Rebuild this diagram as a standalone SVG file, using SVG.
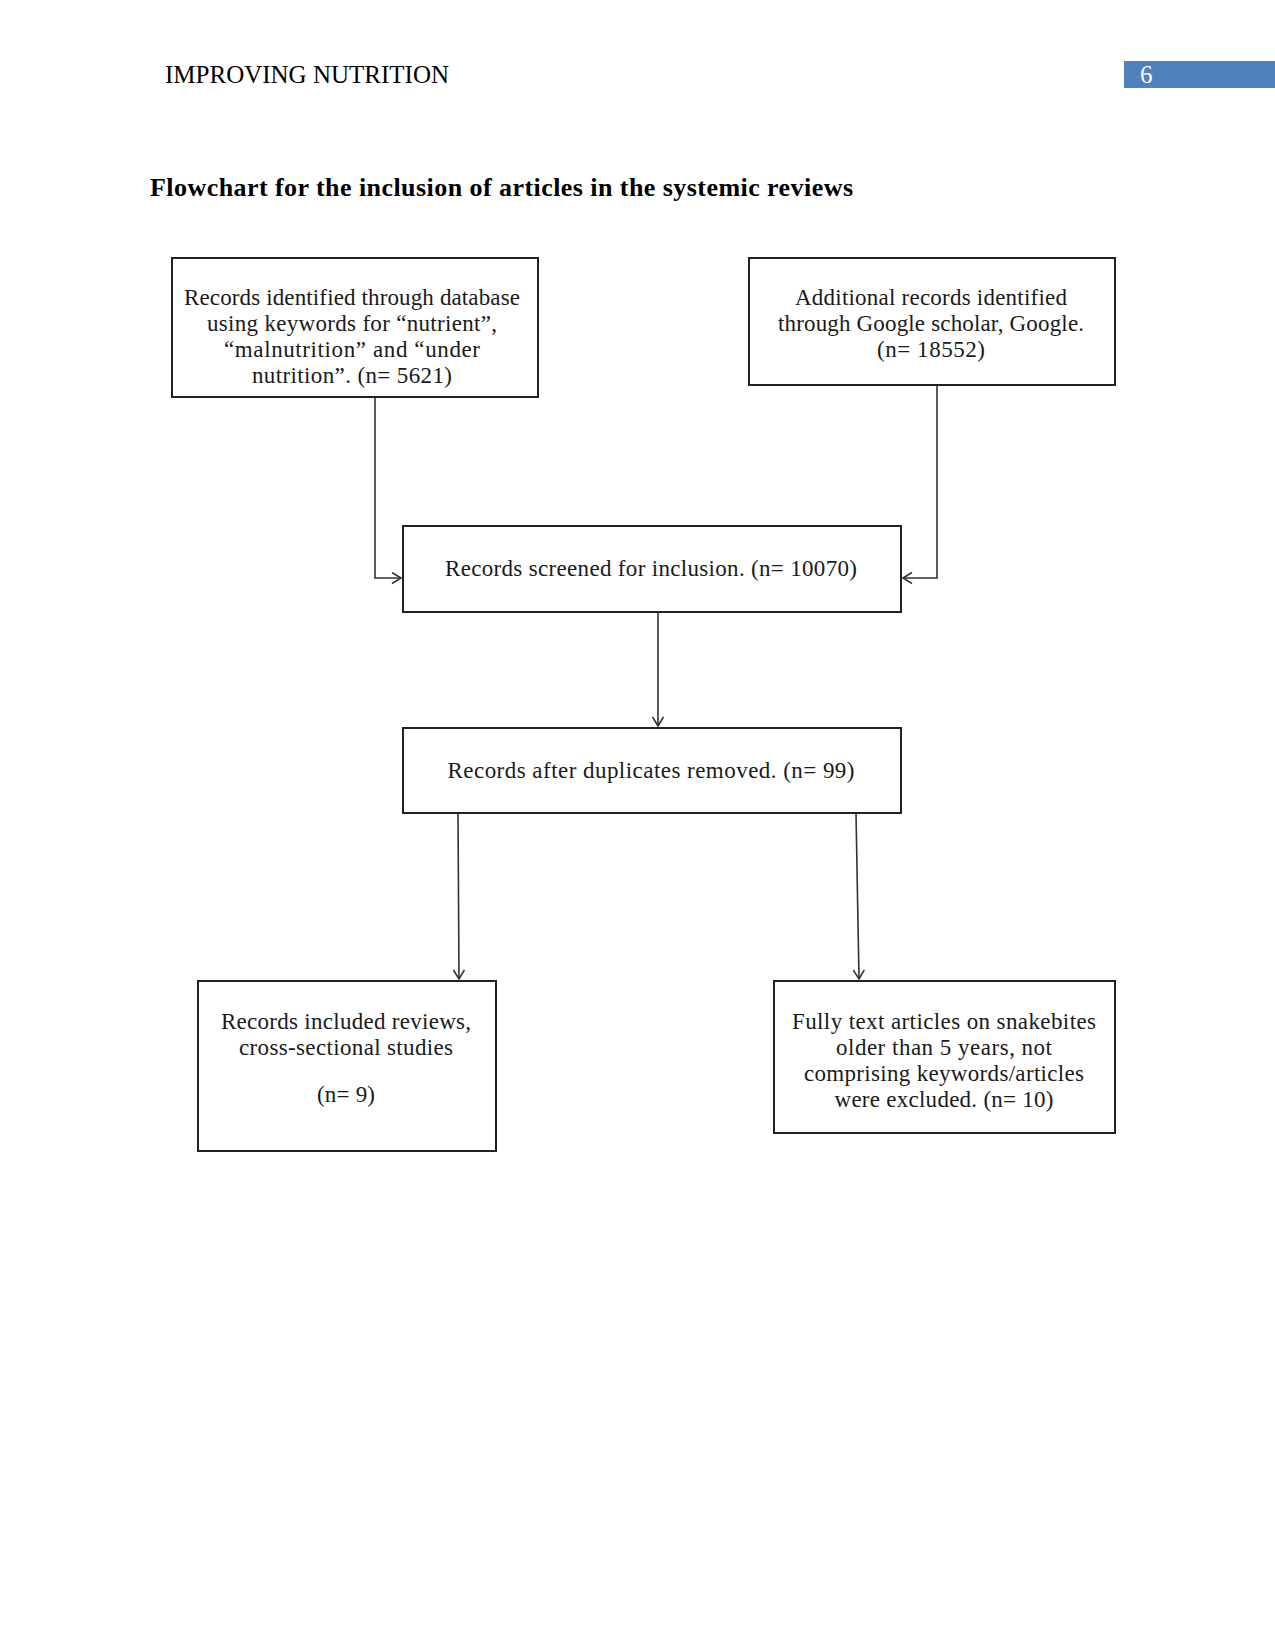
<svg xmlns="http://www.w3.org/2000/svg" width="1275" height="1651" viewBox="0 0 1275 1651">
<style>
.hdr{font-family:"Liberation Serif","Times New Roman",serif;font-size:25px;fill:#000}
.title{font-family:"Liberation Serif","Times New Roman",serif;font-size:26px;font-weight:bold;fill:#000}
.box{fill:#fff;stroke:#222;stroke-width:2}
.t{font-family:"Liberation Serif","Times New Roman",serif;font-size:23px;fill:#1a1a1a;text-anchor:middle}
.c{fill:none;stroke:#333;stroke-width:1.6}
</style>
<defs>
<marker id="ah" markerUnits="userSpaceOnUse" markerWidth="14" markerHeight="14" refX="10" refY="6" orient="auto">
<path d="M1,0.5 L10,6 L1,11.5" fill="none" stroke="#333" stroke-width="1.6"/>
</marker>
</defs>
<rect width="1275" height="1651" fill="#fff"/>
<g id="header">
<text class="hdr" x="165" y="83">IMPROVING NUTRITION</text>
<rect x="1124" y="61" width="151" height="27" fill="#4f81bd"/>
<text class="hdr" x="1140" y="83" style="fill:#fff">6</text>
</g>
<text class="title" x="150" y="196" textLength="703">Flowchart for the inclusion of articles in the systemic reviews</text>
<g id="connectors">
<path class="c" d="M375,397 V578 H401" marker-end="url(#ah)"/>
<path class="c" d="M937,385 V578 H903" marker-end="url(#ah)"/>
<path class="c" d="M658,612 V726" marker-end="url(#ah)"/>
<path class="c" d="M458,813 L459,979" marker-end="url(#ah)"/>
<path class="c" d="M856,813 L859,979" marker-end="url(#ah)"/>
</g>
<g id="node1">
<rect class="box" x="172" y="258" width="366" height="139"/>
<text class="t" x="352" y="305" textLength="336">Records identified through database</text>
<text class="t" x="352" y="331" textLength="290">using keywords for “nutrient”,</text>
<text class="t" x="352" y="357" textLength="256">“malnutrition” and “under</text>
<text class="t" x="352" y="383" textLength="200">nutrition”. (n= 5621)</text>
</g>
<g id="node2">
<rect class="box" x="749" y="258" width="366" height="127"/>
<text class="t" x="931" y="305" textLength="272">Additional records identified</text>
<text class="t" x="931" y="331" textLength="306">through Google scholar, Google.</text>
<text class="t" x="931" y="357" textLength="108">(n= 18552)</text>
</g>
<g id="node3">
<rect class="box" x="403" y="526" width="498" height="86"/>
<text class="t" x="651" y="576" textLength="412">Records screened for inclusion. (n= 10070)</text>
</g>
<g id="node4">
<rect class="box" x="403" y="728" width="498" height="85"/>
<text class="t" x="651" y="778" textLength="407">Records after duplicates removed. (n= 99)</text>
</g>
<g id="node5">
<rect class="box" x="198" y="981" width="298" height="170"/>
<text class="t" x="346" y="1029" textLength="250">Records included reviews,</text>
<text class="t" x="346" y="1055" textLength="214">cross-sectional studies</text>
<text class="t" x="346" y="1102" textLength="58">(n= 9)</text>
</g>
<g id="node6">
<rect class="box" x="774" y="981" width="341" height="152"/>
<text class="t" x="944" y="1029" textLength="304">Fully text articles on snakebites</text>
<text class="t" x="944" y="1055" textLength="216">older than 5 years, not</text>
<text class="t" x="944" y="1081" textLength="280">comprising keywords/articles</text>
<text class="t" x="944" y="1107" textLength="219">were excluded. (n= 10)</text>
</g>
</svg>
